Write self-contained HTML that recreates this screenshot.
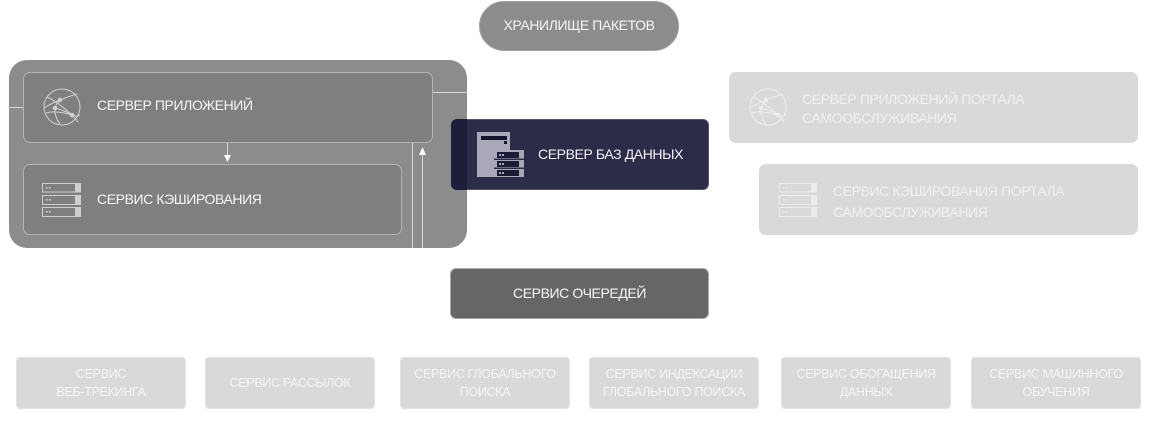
<!DOCTYPE html>
<html><head><meta charset="utf-8">
<style>
html,body{margin:0;padding:0;background:#fff;}
body{width:1151px;height:425px;position:relative;overflow:hidden;font-family:"Liberation Sans","DejaVu Sans",sans-serif;}
.a{position:absolute;box-sizing:border-box;}
.t{position:absolute;white-space:nowrap;color:#f6f6f6;font-size:14px;letter-spacing:-0.4px;}
.bb{position:absolute;box-sizing:border-box;background:#d9d9d9;border:1px solid #e2e2e2;border-radius:4px;width:170px;height:52px;top:357px;display:flex;align-items:center;justify-content:center;text-align:center;color:#f5f5f5;font-size:12.5px;line-height:18px;letter-spacing:-0.3px;}
</style></head><body>

<!-- package storage pill -->
<div class="a" style="left:479px;top:1px;width:200px;height:50px;background:#8c8c8c;border:1px solid #a2a2a2;border-radius:25px;"></div>
<div class="t" style="left:479px;top:17px;width:200px;text-align:center;">ХРАНИЛИЩЕ ПАКЕТОВ</div>

<!-- outer grey container -->
<div class="a" style="left:9px;top:60px;width:458px;height:188px;background:#8c8c8c;border-radius:18px;"></div>

<!-- app server -->
<div class="a" style="left:23px;top:72px;width:410px;height:71px;background:#7f7f7f;border:1px solid #b3b3b3;border-radius:7px;"></div>
<div class="t" style="left:97px;top:97px;">СЕРВЕР ПРИЛОЖЕНИЙ</div>

<!-- cache -->
<div class="a" style="left:23px;top:164px;width:379px;height:71px;background:#7f7f7f;border:1px solid #b3b3b3;border-radius:7px;"></div>
<div class="t" style="left:97px;top:191px;">СЕРВИС КЭШИРОВАНИЯ</div>

<!-- DB server -->
<div class="a" style="left:451px;top:119px;width:258px;height:71px;background:#2c2b48;border:1px solid #55546e;border-radius:6px;"></div>
<div class="a" style="left:451px;top:119px;width:16px;height:71px;background:#1e1d3a;border-radius:6px 0 0 6px;"></div>
<div class="t" style="left:538px;top:146px;color:#f2f2f6;">СЕРВЕР БАЗ ДАННЫХ</div>

<!-- right side portal boxes -->
<div class="a" style="left:729px;top:72px;width:409px;height:71px;background:#d9d9d9;border-radius:7px;"></div>
<div class="t" style="left:802px;top:90px;line-height:19px;color:#f1f1f1;">СЕРВЕР ПРИЛОЖЕНИЙ ПОРТАЛА<br>САМООБСЛУЖИВАНИЯ</div>
<div class="a" style="left:759px;top:164px;width:379px;height:71px;background:#d9d9d9;border-radius:7px;"></div>
<div class="t" style="left:833px;top:181px;line-height:21px;color:#f1f1f1;">СЕРВИС КЭШИРОВАНИЯ ПОРТАЛА<br>САМООБСЛУЖИВАНИЯ</div>

<!-- queue -->
<div class="a" style="left:450px;top:268px;width:259px;height:51px;background:#666666;border:1px solid #a8a8a8;border-radius:6px;"></div>
<div class="t" style="left:450px;top:285px;width:259px;text-align:center;">СЕРВИС ОЧЕРЕДЕЙ</div>

<!-- bottom services -->
<div class="bb" style="left:16px;">СЕРВИС<br>ВЕБ-ТРЕКИНГА</div>
<div class="bb" style="left:205px;">СЕРВИС РАССЫЛОК</div>
<div class="bb" style="left:400px;">СЕРВИС ГЛОБАЛЬНОГО<br>ПОИСКА</div>
<div class="bb" style="left:589px;">СЕРВИС ИНДЕКСАЦИИ<br>ГЛОБАЛЬНОГО ПОИСКА</div>
<div class="bb" style="left:781px;">СЕРВИС ОБОГАЩЕНИЯ<br>ДАННЫХ</div>
<div class="bb" style="left:971px;">СЕРВИС МАШИННОГО<br>ОБУЧЕНИЯ</div>

<svg class="a" style="left:0;top:0;" width="1151" height="425" viewBox="0 0 1151 425">
  <!-- connectors -->
  <g stroke="#d8d8d8" stroke-width="1" fill="none">
    <line x1="9" y1="107.5" x2="23" y2="107.5"/>
    <line x1="433" y1="92.5" x2="467" y2="92.5"/>
    <line x1="227.5" y1="143" x2="227.5" y2="156"/>
    <line x1="412.5" y1="143" x2="412.5" y2="248"/>
    <line x1="422.5" y1="154" x2="422.5" y2="248"/>
  </g>
  <polygon points="224,155 231,155 227.5,162" fill="#ffffff"/>
  <polygon points="419,155 426,155 422.5,147" fill="#ffffff"/>

  <!-- globe icon (left) -->
  <g stroke="#d0d0d0" stroke-width="1" fill="none">
    <circle cx="62" cy="107" r="18"/>
    <path d="M47 97 Q58 102 72 115 Q76 119 78 122"/>
    <path d="M44 108 Q52 103 60 100 Q70 96 77 94"/>
    <path d="M46 113 Q55 110 72 115 Q77 117 80 115"/>
    <path d="M60 100 Q56 104 55 108 Q54 116 60 124"/>
    <path d="M55 108 Q64 110 72 115"/>
  </g>
  <g fill="#d0d0d0">
    <circle cx="60" cy="100" r="2.3"/>
    <circle cx="55" cy="108" r="2.3"/>
    <circle cx="72" cy="115" r="2.3"/>
  </g>

  <!-- globe icon (right, faint) -->
  <g stroke="#eeeeee" stroke-width="1" fill="none">
    <circle cx="768" cy="107" r="18"/>
    <path d="M753 97 Q764 102 778 115 Q782 119 784 122"/>
    <path d="M750 108 Q758 103 766 100 Q776 96 783 94"/>
    <path d="M752 113 Q761 110 778 115 Q783 117 786 115"/>
    <path d="M766 100 Q762 104 761 108 Q760 116 766 124"/>
    <path d="M761 108 Q770 110 778 115"/>
  </g>
  <g fill="#eeeeee">
    <circle cx="766" cy="100" r="2.3"/>
    <circle cx="761" cy="108" r="2.3"/>
    <circle cx="778" cy="115" r="2.3"/>
  </g>

  <!-- cache icon (left) -->
  <g>
    <rect x="42.5" y="183.5" width="38" height="8.5" fill="none" stroke="#cfcfcf"/>
    <rect x="75" y="183" width="6" height="9.5" fill="#cfcfcf"/>
    <rect x="46" y="187" width="1.6" height="1.6" fill="#cfcfcf"/><rect x="49" y="187" width="1.6" height="1.6" fill="#cfcfcf"/>
    <rect x="42.5" y="195.5" width="38" height="9" fill="none" stroke="#cfcfcf"/>
    <rect x="75" y="195" width="6" height="10" fill="#cfcfcf"/>
    <rect x="46" y="199" width="1.6" height="1.6" fill="#cfcfcf"/><rect x="49" y="199" width="1.6" height="1.6" fill="#cfcfcf"/>
    <rect x="42.5" y="207.5" width="38" height="9" fill="none" stroke="#cfcfcf"/>
    <rect x="75" y="207" width="6" height="10" fill="#cfcfcf"/>
    <rect x="46" y="211" width="1.6" height="1.6" fill="#cfcfcf"/><rect x="49" y="211" width="1.6" height="1.6" fill="#cfcfcf"/>
  </g>

  <!-- cache icon (right, faint) -->
  <g>
    <rect x="779.5" y="183.5" width="37" height="8.5" fill="none" stroke="#ececec"/>
    <rect x="811" y="183" width="6" height="9.5" fill="#ececec"/>
    <rect x="783" y="187" width="1.6" height="1.6" fill="#ececec"/><rect x="786" y="187" width="1.6" height="1.6" fill="#ececec"/>
    <rect x="779.5" y="195.5" width="37" height="9" fill="none" stroke="#ececec"/>
    <rect x="811" y="195" width="6" height="10" fill="#ececec"/>
    <rect x="783" y="199" width="1.6" height="1.6" fill="#ececec"/><rect x="786" y="199" width="1.6" height="1.6" fill="#ececec"/>
    <rect x="779.5" y="207.5" width="37" height="9" fill="none" stroke="#ececec"/>
    <rect x="811" y="207" width="6" height="10" fill="#ececec"/>
    <rect x="783" y="211" width="1.6" height="1.6" fill="#ececec"/><rect x="786" y="211" width="1.6" height="1.6" fill="#ececec"/>
  </g>

  <!-- DB icon -->
  <g>
    <rect x="477" y="132" width="33" height="45" fill="#a9a8b8"/>
    <rect x="481" y="136" width="26" height="4" fill="#16152e"/>
    <rect x="504" y="141" width="3" height="3" fill="#16152e"/>
    <rect x="494" y="150" width="30" height="27" fill="#a9a8b8"/>
    <rect x="497" y="152" width="22" height="6" fill="#1c1b36"/>
    <rect x="497" y="161" width="22" height="6" fill="#1c1b36"/>
    <rect x="497" y="170" width="22" height="6" fill="#1c1b36"/>
    <rect x="494" y="158.5" width="30" height="1.5" fill="#2c2b48"/>
    <rect x="494" y="167.5" width="30" height="1.5" fill="#2c2b48"/>
    <rect x="499" y="154" width="2" height="2" fill="#a9a8b8"/><rect x="502" y="154" width="2" height="2" fill="#a9a8b8"/>
    <rect x="499" y="163" width="2" height="2" fill="#a9a8b8"/><rect x="502" y="163" width="2" height="2" fill="#a9a8b8"/>
    <rect x="499" y="172" width="2" height="2" fill="#a9a8b8"/><rect x="502" y="172" width="2" height="2" fill="#a9a8b8"/>
  </g>
</svg>
</body></html>
